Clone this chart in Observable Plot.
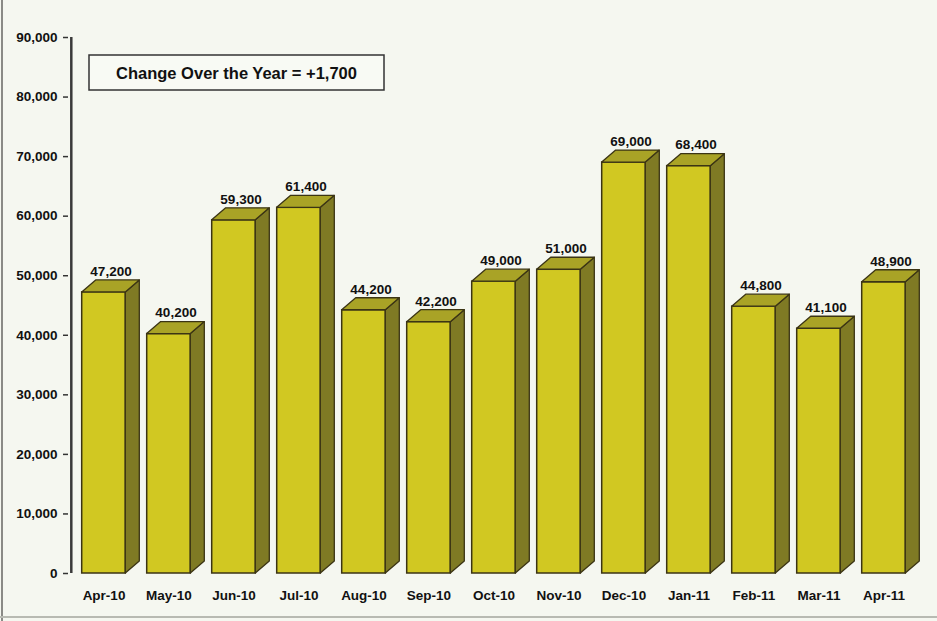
<!DOCTYPE html>
<html>
<head>
<meta charset="utf-8">
<script src="https://cdn.jsdelivr.net/npm/d3@7"></script>
<script src="https://cdn.jsdelivr.net/npm/@observablehq/plot@0.6"></script>
<style>
  html, body { margin: 0; padding: 0; background: #f5f7f0; }
  #wrap { position: relative; width: 937px; height: 621px; overflow: hidden; }
  #edgeL { position: absolute; left: 1px; top: 0; width: 2px; height: 621px; background: #8a8a86; }
  #edgeB { position: absolute; left: 0; top: 616px; width: 937px; height: 2px; background: #b8bab2; }
  svg { font-family: "Liberation Sans", Arial, sans-serif; }
</style>
</head>
<body>
<div id="wrap"><div id="chart"></div><div id="edgeL"></div><div id="edgeB"></div></div>
<script>
const months = ["Apr-10","May-10","Jun-10","Jul-10","Aug-10","Sep-10","Oct-10","Nov-10","Dec-10","Jan-11","Feb-11","Mar-11","Apr-11"];
const values = [47200, 40200, 59300, 61400, 44200, 42200, 49000, 51000, 69000, 68400, 44800, 41100, 48900];
const yTicks = [0, 10000, 20000, 30000, 40000, 50000, 60000, 70000, 80000, 90000];
const annotation = "Change Over the Year = +1,700";

const data = months.map((m, i) => ({month: m, value: values[i]}));
const fmt = d3.format(",");
const DX = 14, DY = 12;

const chart = Plot.plot({
  width: 937,
  height: 621,
  marginTop: 37,
  marginBottom: 48,
  marginLeft: 68,
  marginRight: 19,
  style: {background: "transparent", fontFamily: "Liberation Sans, Arial, sans-serif"},
  x: {domain: months, padding: 0, label: null},
  y: {domain: [0, 90000], label: null},
  marks: [
    Plot.axisY({ticks: yTicks, tickFormat: fmt, tickSize: 5, tickPadding: 6,
      fontSize: 13.5, fontWeight: "bold", fill: "#111", stroke: "#333", strokeWidth: 1.5}),
    Plot.axisX({tickSize: 0, tickPadding: 17, fontSize: 13.5, fontWeight: "bold", fill: "#111"}),
    Plot.ruleX([0], {x: () => months[0], stroke: "#3a3a3a", strokeWidth: 2.5, y1: 0, y2: 90000, dx: -32.7}),
    Plot.barY(data, {x: "month", y: "value", fill: "#d1c822", stroke: "#3b3414", strokeWidth: 1.5,
      insetLeft: 10.7, insetRight: 10.7}),
    Plot.text(data, {x: "month", y: "value", text: d => fmt(d.value), dx: 7, dy: -(DY + 9),
      fontSize: 13.5, fontWeight: "bold", fill: "#111"})
  ]
});

document.getElementById("chart").appendChild(chart);

// 3D side & top faces built from Plot's scales
const xs = chart.scale("x"), ys = chart.scale("y");
const bw = xs.bandwidth;
const svg = d3.select(chart);
const g = svg.append("g");
data.forEach(d => {
  const x0 = xs.apply(d.month) + 10.7;
  const x1 = xs.apply(d.month) + bw - 10.7;
  const yt = ys.apply(d.value);
  const yb = ys.apply(0);
  // side face
  g.append("path")
    .attr("d", `M${x1},${yb} L${x1 + DX},${yb - DY} L${x1 + DX},${yt - DY} L${x1},${yt} Z`)
    .attr("fill", "#7f7a24").attr("stroke", "#3b3414").attr("stroke-width", 1.3).attr("stroke-linejoin", "round");
  // top face
  g.append("path")
    .attr("d", `M${x0},${yt} L${x0 + DX},${yt - DY} L${x1 + DX},${yt - DY} L${x1},${yt} Z`)
    .attr("fill", "#a9a326").attr("stroke", "#3b3414").attr("stroke-width", 1.3).attr("stroke-linejoin", "round");
});

// annotation box
const box = svg.append("g");
box.append("rect").attr("x", 89).attr("y", 55).attr("width", 295).attr("height", 35)
  .attr("fill", "#f8faf4").attr("stroke", "#333").attr("stroke-width", 1.5);
box.append("text").attr("x", 236.5).attr("y", 73).attr("dy", "0.35em")
  .attr("text-anchor", "middle").attr("font-size", 16.5).attr("font-weight", "bold")
  .attr("fill", "#111").text(annotation);
</script>
</body>
</html>
